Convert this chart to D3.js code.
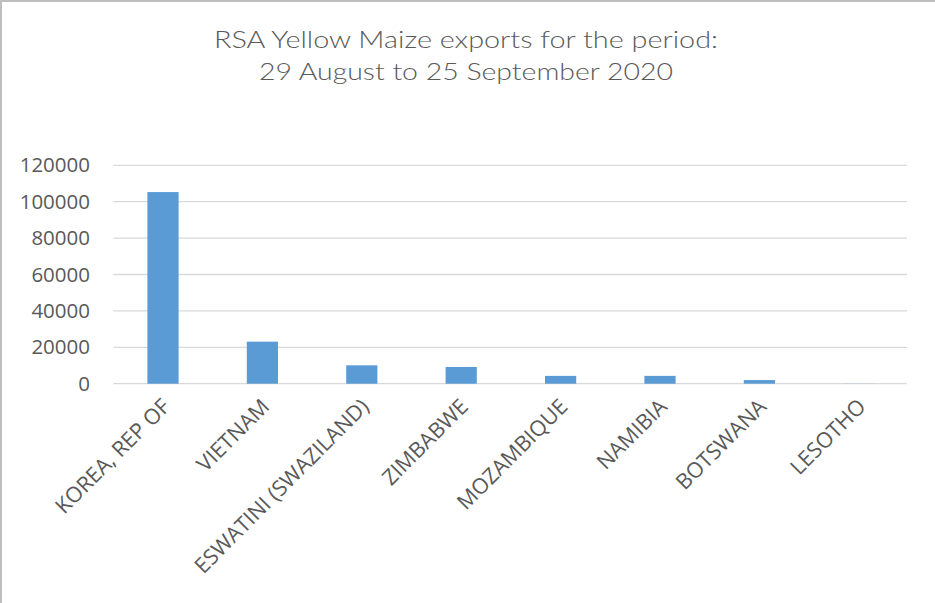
<!DOCTYPE html>
<html>
<head>
<meta charset="utf-8">
<script src="https://cdn.jsdelivr.net/npm/d3@7"></script>
<style>
  html, body { margin: 0; padding: 0; background: #fff; }
  svg { display: block; }
</style>
</head>
<body>
<script>
// Yellow maize exports by destination, tonnes
const countries = ["KOREA, REP OF", "VIETNAM", "ESWATINI (SWAZILAND)", "ZIMBABWE",
                   "MOZAMBIQUE", "NAMIBIA", "BOTSWANA", "LESOTHO"];
const tonnes = [105300, 23100, 10100, 9200, 4300, 4300, 2000, 50];
const yTicks = [0, 20000, 40000, 60000, 80000, 100000, 120000];
const titleLines = ["RSA Yellow Maize exports for the period:", "29 August to 25 September 2020"];

const W = 935, H = 603;
const plot = { left: 113.3, right: 908.5, top: 165.3, bottom: 383.7 };

const svg = d3.select("body").append("svg").attr("width", W).attr("height", H);

// chart frame (only top and left edges fall inside the view)
svg.append("rect")
  .attr("x", 1).attr("y", 1).attr("width", W + 20).attr("height", H + 20)
  .attr("fill", "#fff").attr("stroke", "#bfbfbf").attr("stroke-width", 2);

// title
const titleLen = [504, 414];
const titleBase = [48, 80];
svg.append("g").selectAll("text").data(titleLines).join("text")
  .attr("x", 466).attr("y", (d, i) => titleBase[i])
  .attr("text-anchor", "middle")
  .attr("textLength", (d, i) => titleLen[i])
  .attr("lengthAdjust", "spacingAndGlyphs")
  .style("font-family", "Lato, 'Open Sans', sans-serif")
  .style("font-weight", 300)
  .style("font-size", "22.5px")
  .style("fill", "#595959")
  .text(d => d);

const x = d3.scaleBand().domain(countries).range([plot.left, plot.right])
  .paddingInner(0.686).paddingOuter(0.343);
const y = d3.scaleLinear().domain([0, 120000]).range([plot.bottom, plot.top]);

// gridlines
svg.append("g").selectAll("line").data(yTicks).join("line")
  .attr("x1", plot.left).attr("x2", plot.right - 1.5)
  .attr("y1", d => y(d)).attr("y2", d => y(d))
  .attr("stroke", "#d9d9d9").attr("stroke-width", 1.3);

// y axis labels
const yAxis = d3.axisLeft(y).tickValues(yTicks).tickSize(0).tickPadding(0)
  .tickFormat(d3.format("d"));
const gy = svg.append("g").attr("transform", `translate(90,0)`).call(yAxis);
gy.select(".domain").remove();
gy.selectAll("text")
  .style("font-family", "'Open Sans', sans-serif")
  .style("font-size", "20.5px")
  .style("fill", "#595959");

// bars
svg.append("g").selectAll("rect").data(countries).join("rect")
  .attr("x", d => x(d))
  .attr("width", x.bandwidth())
  .attr("y", (d, i) => y(tonnes[i]))
  .attr("height", (d, i) => y(0) - y(tonnes[i]))
  .attr("fill", "#5b9bd5");

// x axis category labels, rotated
const xAxis = d3.axisBottom(x).tickSize(0).tickPadding(0);
const gx = svg.append("g").attr("transform", `translate(0,${plot.bottom})`).call(xAxis);
gx.select(".domain").remove();
gx.selectAll(".tick text")
  .attr("text-anchor", "end")
  .attr("dy", "0.35em")
  .attr("transform", "translate(3,19) rotate(-45)")
  .attr("x", 0).attr("y", 0)
  .style("font-family", "'Open Sans', sans-serif")
  .style("font-size", "21.5px")
  .style("fill", "#595959");
</script>
</body>
</html>
